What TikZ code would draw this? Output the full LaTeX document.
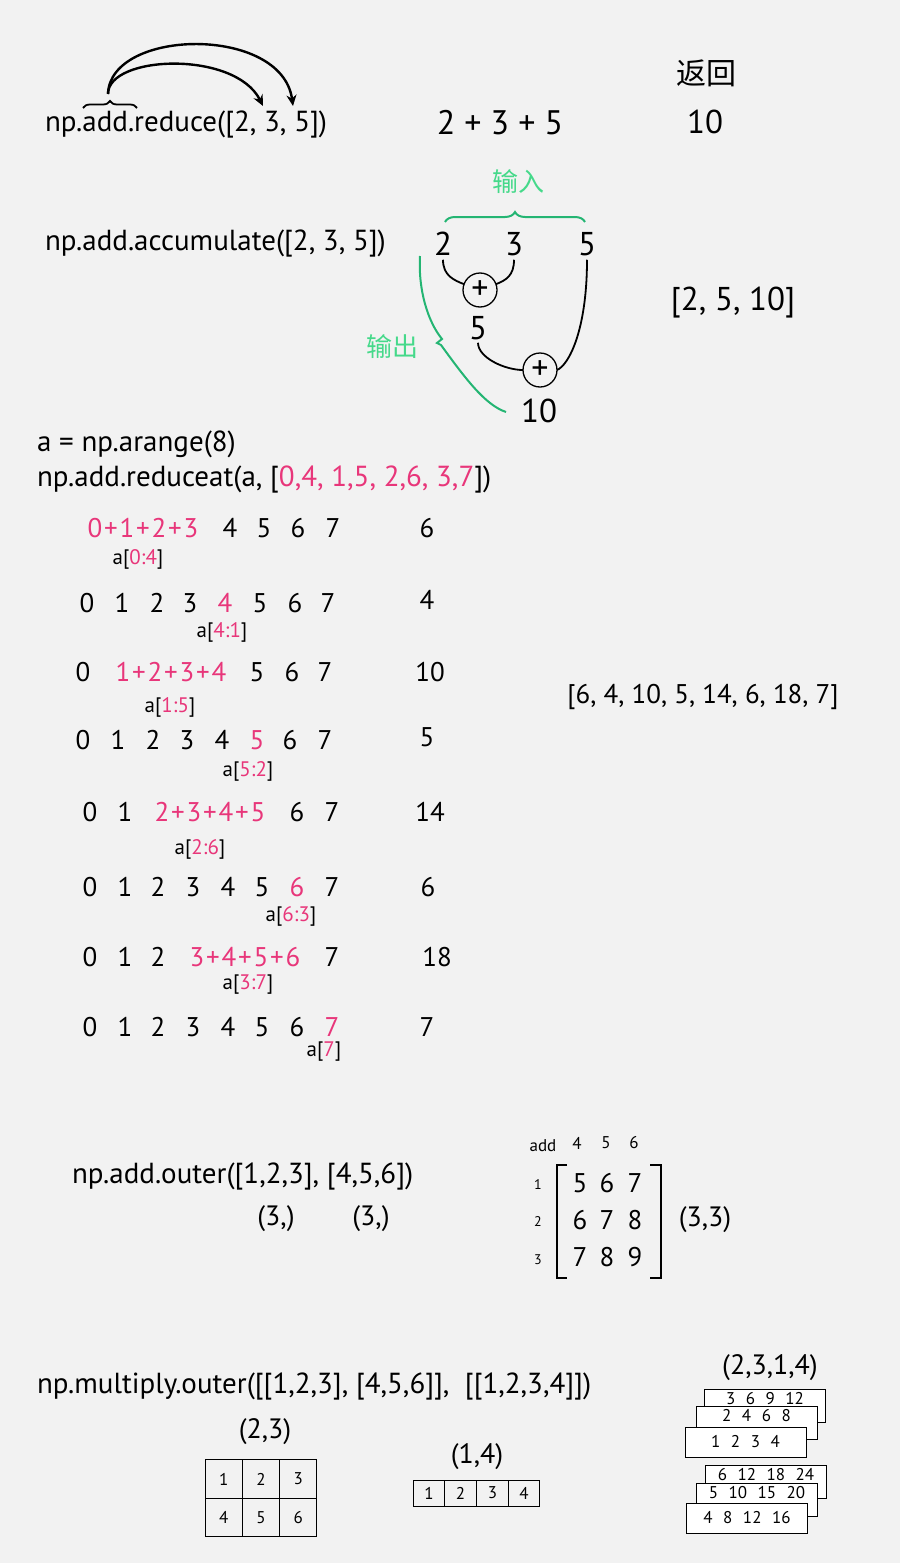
\documentclass[tikz,border=0pt]{standalone}
\usepackage{fontspec}
\setmainfont{PT Sans}
\newfontfamily\cjk{Noto Sans CJK SC}
\usetikzlibrary{positioning,arrows.meta,decorations.pathreplacing}
\definecolor{bg}{HTML}{F2F2F2}
\definecolor{pinkc}{HTML}{E8367A}
\definecolor{greentx}{HTML}{45D98A}
\definecolor{greenln}{HTML}{24B573}
\newcommand{\pk}[1]{\textcolor{pinkc}{#1}}
\newcommand{\pl}{\kern1.8pt+\kern1.8pt}

\begin{document}
\begin{tikzpicture}[x=1pt,y=-1pt, every node/.style={inner sep=0pt, outer sep=0pt},
		code/.style={anchor=west, font=\fontsize{29}{33}\selectfont},
		big/.style={font=\fontsize{33}{37}\selectfont},
		num/.style={font=\fontsize{27}{31}\selectfont},
		shp/.style={font=\fontsize{28}{32}\selectfont},
		sub/.style={font=\fontsize{21}{25}\selectfont},
		small/.style={font=\fontsize{17}{20}\selectfont},
		cn/.style={font=\cjk\fontsize{26}{30}\selectfont},
		plus/.style={circle, draw, line width=1.3pt, minimum size=34pt, font=\fontsize{34}{34}\selectfont},
		cell/.style={draw, line width=1pt, font=\fontsize{17}{19}\selectfont},
		card/.style={draw, fill=white, line width=1pt, minimum width=121pt, minimum height=30pt, font=\fontsize{17}{19}\selectfont, execute at begin node={\spaceskip=10.5pt\relax}},
		backcard/.style={card, inner ysep=3pt, text height=12pt, text depth=15pt}]
			
			% background
			\fill[bg] (0,0) rectangle (900,1563);
			\useasboundingbox (0,0) rectangle (900,1563);
			
			% reduce
			\node[code] (reduce) at (45,125) {np.add.reduce([2, 3, 5])};
			\node[big, font=\fontsize{34}{38}\selectfont] (sum) at (500,123) {2 + 3 + 5};
			\node[cn, font=\cjk\fontsize{30}{34}\selectfont] (ret) at (706,73) {返回};
			\node[big] (res1) at (705,122) {10};
			\coordinate (addL) at (83,108);
			\coordinate (addR) at (137,108);
			\coordinate (tip) at (108,94);
			\coordinate (to3) at (263,106);
			\coordinate (to5) at (293,106);
			\draw[decorate, decoration={brace, amplitude=7pt}, line width=1.8pt] (addL) -- (addR);
			\draw[line width=2.4pt, -{Stealth[length=11pt,width=10pt]}] (tip) .. controls (108,55) and (235,50) .. (to3);
			\draw[line width=2.4pt, -{Stealth[length=11pt,width=10pt]}] (tip) .. controls (110,28) and (282,25) .. (to5);
			
			% accumulate
			\node[code] (accum) at (45,244) {np.add.accumulate([2, 3, 5])};
			\node[big] (a2) at (443,244) {2};
			\node[big] (a3) at (514,244) {3};
			\node[big] (a5) at (587,244) {5};
			\node[plus] (p1) at (480,290) {+};
			\node[big] (s5) at (478,328) {5};
			\node[plus] (p2) at (540,370) {+};
			\node[big] (s10) at (539,411) {10};
			\node[big] (acc) at (733,303) {[2, 5, 10]};
			\draw[line width=1.8pt] ([yshift=-4pt]a2.south) .. controls +(0,16) and +(-10,-4) .. (p1.160);
			\draw[line width=1.8pt] ([yshift=-4pt]a3.south) .. controls +(0,16) and +(10,-4) .. (p1.20);
			\draw[line width=1.8pt] ([yshift=-3pt]s5.south) .. controls +(0,15) and +(-18,0) .. (p2.west);
			\draw[line width=1.8pt] ([yshift=-4pt]a5.south) .. controls +(0,70) and +(12,-5) .. (p2.east);
			
			% input / output braces
			\node[cn, text=greentx] (inp) at (518,182) {输入};
			\node[cn, text=greentx] (outp) at (392,347) {输出};
			\coordinate (inL) at (445,222);
			\coordinate (inR) at (585,222);
			\coordinate (outT) at (420,256);
			\coordinate (outB) at (506,412);
			\draw[greenln, line width=2pt, decorate, decoration={brace, amplitude=10pt}] (inL) -- (inR);
			\draw[greenln, line width=2pt] (outT) .. controls (418,290) and (428,322) .. (442,339) -- (437,343) -- (441,345) .. controls (465,378) and (485,405) .. (outB);
			
			% reduceat
			\node[code] (arange) at (37,444) {a = np.arange(8)};
			\node[code] (reduceat) at (37,480) {np.add.reduceat(a, [\pk{0,4, 1,5, 2,6, 3,7}])};
			
			% [0:4]
			\node[num, text=pinkc] (r1s) at (143,528) {0\pl1\pl2\pl3};
			\foreach \v/\x in {4/230,5/264,6/298,7/333} \node[num] (r1-\v) at (\x,528) {\v};
			\node[sub] (r1l) at (138,559) {a[\pk{0:4}]};
			\node[num] (r1r) at (427,528) {6};
			
			% [4:1]
			\foreach \v/\x in {0/87,1/122,2/157,3/190,5/260,6/295,7/328} \node[num] (r2-\v) at (\x,603) {\v};
			\node[num, text=pinkc] (r2s) at (225,603) {4};
			\node[sub] (r2l) at (222,632) {a[\pk{4:1}]};
			\node[num] (r2r) at (427,600) {4};
			
			% [1:5]
			\foreach \v/\x in {0/83,5/257,6/292,7/325} \node[num] (r3-\v) at (\x,672) {\v};
			\node[num, text=pinkc] (r3s) at (171,672) {1\pl2\pl3\pl4};
			\node[sub] (r3l) at (170,707) {a[\pk{1:5}]};
			\node[num] (r3r) at (430,672) {10};
			
			% [5:2]
			\foreach \v/\x in {0/83,1/118,2/153,3/187,4/222,6/290,7/325} \node[num] (r4-\v) at (\x,740) {\v};
			\node[num, text=pinkc] (r4s) at (257,740) {5};
			\node[sub] (r4l) at (248,771) {a[\pk{5:2}]};
			\node[num] (r4r) at (427,737) {5};
			
			% [2:6]
			\foreach \v/\x in {0/90,1/125,6/297,7/332} \node[num] (r5-\v) at (\x,812) {\v};
			\node[num, text=pinkc] (r5s) at (210,812) {2\pl3\pl4\pl5};
			\node[sub] (r5l) at (200,849) {a[\pk{2:6}]};
			\node[num] (r5r) at (430,812) {14};
			
			% [6:3]
			\foreach \v/\x in {0/90,1/125,2/158,3/193,4/228,5/262,7/332} \node[num] (r6-\v) at (\x,887) {\v};
			\node[num, text=pinkc] (r6s) at (297,887) {6};
			\node[sub] (r6l) at (291,916) {a[\pk{6:3}]};
			\node[num] (r6r) at (428,887) {6};
			
			% [3:7]
			\foreach \v/\x in {0/90,1/125,2/158,7/332} \node[num] (r7-\v) at (\x,957) {\v};
			\node[num, text=pinkc] (r7s) at (245,957) {3\pl4\pl5\pl6};
			\node[sub] (r7l) at (248,985) {a[\pk{3:7}]};
			\node[num] (r7r) at (437,957) {18};
			
			% [7]
			\foreach \v/\x in {0/90,1/125,2/158,3/193,4/228,5/262,6/297} \node[num] (r8-\v) at (\x,1027) {\v};
			\node[num, text=pinkc] (r8s) at (332,1027) {7};
			\node[sub] (r8l) at (324,1052) {a[\pk{7}]};
			\node[num] (r8r) at (427,1027) {7};
			
			\node[num] (allres) at (703,697) {[6, 4, 10, 5, 14, 6, 18, 7]};
			
			% outer
			\node[code] (outer) at (72,1176) {np.add.outer([1,2,3], [4,5,6])};
			\node[shp] (sh1) at (276,1219) {(3,)};
			\node[shp] (sh2) at (371,1219) {(3,)};
			\node[small] (addh) at (543,1146) {add};
			\foreach \v/\x in {4/577,5/606,6/634} \node[small] (col\v) at (\x,1143) {\v};
			\foreach \v/\y in {1/1185,2/1222,3/1260} \node[small, font=\fontsize{14}{16}\selectfont] (row\v) at (538,\y) {\v};
			\foreach \a/\b/\c/\y in {5/6/7/1183,6/7/8/1220,7/8/9/1257} {
				\node[num] (m\y-1) at (580,\y) {\a};
				\node[num] (m\y-2) at (607,\y) {\b};
				\node[num] (m\y-3) at (635,\y) {\c};
			}
			\draw[line width=1.2pt] (567,1165) -- (557,1165) -- (557,1278) -- (567,1278);
			\draw[line width=1.2pt] (650,1165) -- (661,1165) -- (661,1278) -- (650,1278);
			\node[shp] (sh3) at (705,1220) {(3,3)};
			
			% multiply.outer
			\node[code] (mult) at (37,1386) {np.multiply.outer([[1,2,3], [4,5,6]],\ \ [[1,2,3,4]])};
			\node[shp] (sh4) at (265,1432) {(2,3)};
			\foreach \v/\x/\y in {1/223.7/1479,2/261/1479,3/298.3/1479,4/223.7/1517.5,5/261/1517.5,6/298.3/1517.5}
				\node[cell, minimum width=37.3pt, minimum height=38.5pt] (t\v) at (\x,\y) {\v};
			\node[shp] (sh5) at (477,1457) {(1,4)};
			\foreach \v/\x in {1/428.9,2/460.6,3/492.4,4/524.1}
				\node[cell, minimum width=31.7pt, minimum height=26pt] (u\v) at (\x,1493) {\v};
			\node[shp] (sh6) at (770,1368) {(2,3,1,4)};
			\node[backcard] (c3) at (765,1406) {3 6 9 12};
			\node[backcard] (c2) at (756.5,1423) {2 4 6 8};
			\node[card] (c1) at (745.5,1442) {1 2 3 4};
			\node[backcard] (d3) at (766,1482) {6 12 18 24};
			\node[backcard] (d2) at (757,1499.5) {5 10 15 20};
			\node[card] (d1) at (747,1518) {4 8 12 16};
			
		\end{tikzpicture}
\end{document}
